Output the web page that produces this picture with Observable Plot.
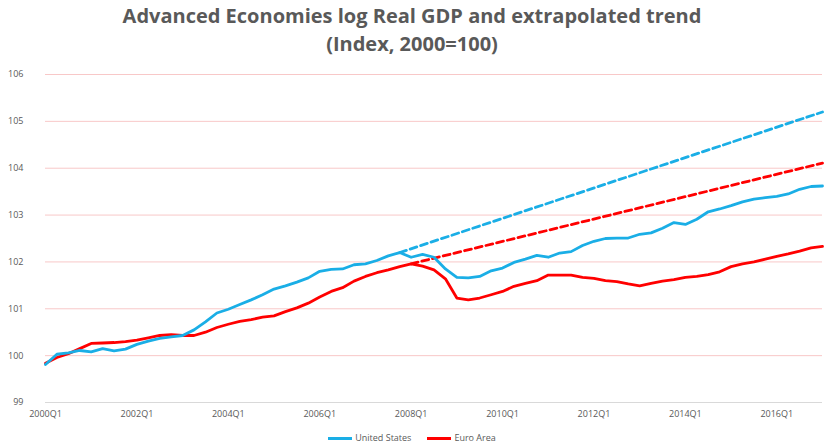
<!DOCTYPE html>
<html><head><meta charset="utf-8">
<script src="https://cdn.jsdelivr.net/npm/d3@7"></script>
<script src="https://cdn.jsdelivr.net/npm/@observablehq/plot@0.6"></script>
<style>
body{margin:0;background:#fff;font-family:"Open Sans",sans-serif}
#wrap{position:relative;width:824px;height:448px}
#title{position:absolute;top:2px;left:0;width:824px;text-align:center;font-weight:bold;font-size:20px;line-height:28px;color:#595959}
#legend{position:absolute;top:431px;left:0;width:824px;text-align:center;font-size:9px;color:#595959}
#legend span{display:inline-block;margin:0 8px}
#legend i{display:inline-block;width:24px;height:3px;vertical-align:middle;margin-right:3px}
#chart{position:absolute;top:0;left:0}
</style></head>
<body><div id="wrap">
<div id="chart"></div>
<div id="title">Advanced Economies log Real GDP and extrapolated trend<br>(Index, 2000=100)</div>
<div id="legend"><span><i style="background:#1aaee6"></i>United States</span><span><i style="background:#ff0000"></i>Euro Area</span></div>
</div>
<script>
// quarterly, 2000Q1 .. 2017Q1
const usGdp = [99.81,100.03,100.06,100.11,100.08,100.15,100.10,100.14,100.24,100.31,100.37,100.40,100.43,100.55,100.72,100.91,
  100.99,101.09,101.19,101.30,101.42,101.49,101.57,101.66,101.80,101.84,101.85,101.94,101.96,102.03,102.13,102.20,
  102.10,102.16,102.10,101.85,101.67,101.66,101.69,101.81,101.87,101.99,102.06,102.14,102.10,102.19,102.22,102.35,
  102.44,102.50,102.51,102.51,102.59,102.62,102.72,102.84,102.80,102.91,103.07,103.13,103.20,103.28,103.34,103.37,
  103.40,103.45,103.55,103.61,103.62]
const euGdp = [99.84,99.96,100.04,100.15,100.26,100.27,100.28,100.30,100.33,100.38,100.43,100.45,100.43,100.43,100.50,100.60,
  100.67,100.73,100.77,100.82,100.85,100.94,101.02,101.12,101.25,101.37,101.45,101.59,101.69,101.77,101.83,101.90,
  101.96,101.91,101.83,101.64,101.23,101.19,101.23,101.30,101.37,101.48,101.54,101.60,101.72,101.72,101.72,101.67,
  101.65,101.60,101.58,101.53,101.49,101.54,101.59,101.62,101.67,101.69,101.73,101.79,101.90,101.96,102.00,102.06,
  102.12,102.17,102.23,102.30,102.33]
// trend lines: [start quarter index, value], [end quarter index, value]
const usTrend = [[31,102.20],[68,105.20]]
const euTrend = [[32,101.96],[68,104.11]]
const xTicks = [0,8,16,24,32,40,48,56,64]
const yTicks = [99,100,101,102,103,104,105,106]
const qLabel = i => `${2000 + Math.floor(i/4)}Q${i%4+1}`

const blue = '#1aaee6', red = '#ff0000'
const us = usGdp.map((v,i) => ({i, v}))
const eu = euGdp.map((v,i) => ({i, v}))
const toPts = t => t.map(([i,v]) => ({i, v}))

const chart = Plot.plot({
  width: 824, height: 448,
  marginTop: 74, marginBottom: 46, marginLeft: 45, marginRight: 2,
  style: {fontFamily: '"Open Sans",sans-serif', fontSize: '9px', color: '#595959'},
  x: {domain: [0,68], ticks: xTicks, tickFormat: qLabel, tickSize: 0, tickPadding: 8, label: null},
  y: {domain: [99,106], ticks: yTicks, tickFormat: d => String(d), tickSize: 0, tickPadding: 22, label: null},
  marks: [
    Plot.gridY(yTicks, {stroke: '#f8c8c8', strokeOpacity: 1, strokeWidth: 1}),
    Plot.ruleY([99], {stroke: '#d9d9d9'}),
    Plot.line(toPts(usTrend), {x: 'i', y: 'v', stroke: blue, strokeWidth: 2.8, strokeDasharray: '7,4'}),
    Plot.line(toPts(euTrend), {x: 'i', y: 'v', stroke: red, strokeWidth: 2.8, strokeDasharray: '7,4'}),
    Plot.line(eu, {x: 'i', y: 'v', stroke: red, strokeWidth: 2.8}),
    Plot.line(us, {x: 'i', y: 'v', stroke: blue, strokeWidth: 2.8})
  ]
})
d3.select('#chart').append(() => chart)
</script>
</body></html>
